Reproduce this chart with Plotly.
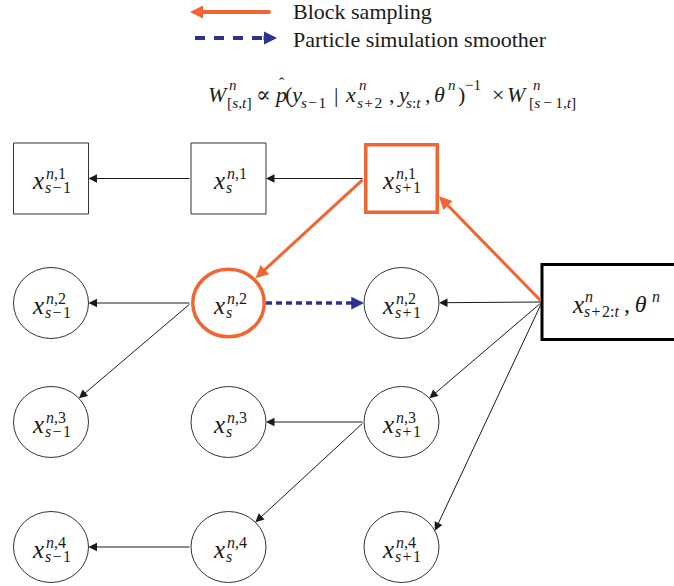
import math
import plotly.graph_objects as go

# ---------------- data ----------------
time_steps = ["s-1", "s", "s+1"]
particles = [1, 2, 3, 4]
lineage_particle = 1                      # frozen path, drawn with squares
highlight_nodes = [("s+1", 1), ("s", 2)]  # nodes touched by block sampling
ancestry_edges = [
    (("s+1", 1), ("s", 1)),
    (("s", 1), ("s-1", 1)),
    (("s", 2), ("s-1", 2)),
    (("s", 2), ("s-1", 3)),
    (("s+1", 3), ("s", 3)),
    (("s+1", 3), ("s", 4)),
    (("s", 4), ("s-1", 4)),
    ("future", ("s+1", 2)),
    ("future", ("s+1", 3)),
    ("future", ("s+1", 4)),
]
block_edges = [("future", ("s+1", 1)), (("s+1", 1), ("s", 2))]
pss_edges = [(("s", 2), ("s+1", 2))]
legend_labels = ["Block sampling", "Particle simulation smoother"]
future_sup, future_sub = "n", "s+2:t"

HS = "&#8202;"   # hair space
TS = "&#8201;"   # thin space
# formula tokens: (text, role)
formula_tokens = [
    ("<i>W</i>", "main"), ("<i>n</i>", "sup"), ("[<i>s</i>,<i>t</i>]", "sub"),
    ("∝", "main"), ("<i>p</i>", "main"), ("ˆ", "hat"), ("(<i>y</i>", "main"),
    ("<i>s</i>" + HS + "−" + HS + "1", "sub"), ("|", "main"), ("<i>x</i>", "main"),
    ("<i>n</i>", "sup"), ("<i>s</i>" + HS + "+" + HS + "2", "sub"),
    ("," + TS + "<i>y</i>", "main"),
    ("<i>s</i>:<i>t</i>", "sub"), (",", "main"), ("<i>θ</i>", "main"),
    ("<i>n</i>", "sup"), (")", "main"), ("−1", "sup"), ("×", "main"),
    ("<i>W</i>", "main"), ("<i>n</i>", "sup"),
    ("[<i>s</i>" + TS + "−" + TS + "1,<i>t</i>]", "sub"),
]

# ---------------- layout constants ----------------
W, H = 674, 586
COL_X = {"s-1": 51.0, "s": 228.5, "s+1": 401.5}
ROW_Y = {1: 178.5, 2: 303.0, 3: 422.0, 4: 547.0}
RX, RY = 37.5, 35.5
FUT = dict(x0=542, x1=712, y0=264.5, y1=339.5)
FUT_PORT = (542.0, 302.0)
HEAD_DIR = {("future", ("s+1", 1)): (41, 19.5), ("future", ("s+1", 4)): (35, -17)}
formula_x = [206, 227, 225, 254, 272, 277, 283, 299, 332, 343, 357, 355, 387,
             404, 423, 432, 446, 456, 463, 490, 505, 531, 527]
FORM_Y = {"main": 94, "sup": 85, "sub": 102, "hat": 83}
FORM_SIZE = {"main": 22, "sup": 15, "sub": 15.5, "hat": 16}
FONT = '"Liberation Serif", "DejaVu Serif", serif'
TXT = "#1a1a1a"
ORANGE = "#F26532"
BLUE = "#2E3192"
BLACK = "#1a1a1a"

fig = go.Figure()
fig.add_trace(go.Scatter(
    x=[COL_X[t] for t in time_steps for _ in particles],
    y=[ROW_Y[p] for _ in time_steps for p in particles],
    mode="markers", marker=dict(opacity=0), hoverinfo="skip", showlegend=False))

shapes, anns = [], []


def center(n):
    return COL_X[n[0]], ROW_Y[n[1]]


def is_rect(n):
    return n != "future" and n[1] == lineage_particle


def tail_pt(n):
    if n == "future":
        return FUT_PORT
    cx, cy = center(n)
    return cx - RX, cy


def head_pt(n, tp, d=None):
    cx, cy = center(n)
    dx, dy = d if d else (tp[0] - cx, tp[1] - cy)
    if is_rect(n):
        t = min(RX / abs(dx) if dx else 1e9, RY / abs(dy) if dy else 1e9)
    else:
        t = 1.0 / math.hypot(dx / RX, dy / RY)
    return cx + t * dx, cy + t * dy


def arrow(hx, hy, tx, ty, color, width, size):
    anns.append(dict(x=hx, y=hy, ax=tx, ay=ty, xref="x", yref="y", axref="x",
                     ayref="y", text="", showarrow=True, arrowhead=2,
                     arrowsize=size, arrowwidth=width, arrowcolor=color))


def text(x, y, s, size, anchor="left"):
    anns.append(dict(x=x, y=y, xref="x", yref="y", text=s, showarrow=False,
                     xanchor=anchor, yanchor="middle",
                     font=dict(family=FONT, size=size, color=TXT)))


def html(s):
    out = ""
    for c in s:
        if c.isalpha():
            out += "<i>%s</i>" % c
        elif c == "-":
            out += HS + "−" + HS
        elif c == "+":
            out += HS + "+" + HS
        else:
            out += c
    return out


CW = {"n": 8.0, ",": 4.0, "1": 8.0, "2": 8.0, "3": 8.0, "4": 8.0, "s": 6.3,
      "-": 12.5, "+": 12.5, ":": 4.5, "t": 4.5}


def est(s):
    return sum(CW.get(c, 7.5) for c in s)


# ---------------- nodes ----------------
tsub = {"s-1": "s-1", "s": "s", "s+1": "s+1"}
for t in time_steps:
    for p in particles:
        n = (t, p)
        cx, cy = center(n)
        hl = n in highlight_nodes
        lw = 3.5 if hl else 1
        col = ORANGE if hl else "#333333"
        inset = lw / 2 if hl else 0
        shapes.append(dict(type="rect" if is_rect(n) else "circle",
                           xref="x", yref="y",
                           x0=cx - RX + inset, x1=cx + RX - inset,
                           y0=cy - RY + inset, y1=cy + RY - inset,
                           line=dict(color=col, width=lw),
                           fillcolor="rgba(0,0,0,0)"))
        sup, sub = "n,%d" % p, tsub[t]
        wm = 13
        ws = max(est(sup), est(sub))
        left = cx - (wm + 1 + ws) / 2
        text(left - 1, cy + 2, "<i>x</i>", 25)
        text(left + wm, cy - 5, html(sup), 16)
        text(left + wm - 1, cy + 9, html(sub), 16)

# future block
shapes.append(dict(type="rect", xref="x", yref="y", **FUT,
                   line=dict(color="black", width=3)))
fy = FUT_PORT[1]
text(570, fy + 2, "<i>x</i>", 25)
text(583, fy - 6, html(future_sup), 16)
text(582, fy + 9, html(future_sub), 16)
text(622, fy + 2, "," + TS + "<i>θ</i>", 24)
text(650, fy - 6, html(future_sup), 16)

# ---------------- edges ----------------
for src, dst in ancestry_edges:
    tp = tail_pt(src)
    hx, hy = head_pt(dst, tp, HEAD_DIR.get((src, dst)))
    arrow(hx, hy, tp[0], tp[1], BLACK, 1, 1.7)

for src, dst in block_edges:
    tp = tail_pt(src)
    hx, hy = head_pt(dst, tp, HEAD_DIR.get((src, dst)))
    arrow(hx, hy, tp[0], tp[1], ORANGE, 3, 0.85)

for src, dst in pss_edges:
    sx, sy = center(src)
    dx_, dy_ = center(dst)
    x0 = sx + RX
    x1 = dx_ - RX
    shapes.append(dict(type="line", xref="x", yref="y", x0=x0, x1=x1 - 9,
                       y0=sy, y1=dy_, line=dict(color=BLUE, width=3.5,
                                                dash="6px,4px")))
    arrow(x1, dy_, x1 - 10, dy_, BLUE, 3, 0.85)

# ---------------- legend ----------------
arrow(190, 12, 272, 12, ORANGE, 4, 0.65)
shapes.append(dict(type="line", xref="x", yref="y", x0=195, x1=262, y0=38,
                   y1=38, line=dict(color=BLUE, width=4, dash="10px,9px")))
arrow(277, 38, 262, 38, BLUE, 4, 0.65)
text(291, 11, legend_labels[0], 22)
text(291, 39, legend_labels[1], 22)

# ---------------- formula ----------------
for (s, role), x in zip(formula_tokens, formula_x):
    text(x, FORM_Y[role], s, FORM_SIZE[role])

fig.update_layout(
    width=W, height=H, margin=dict(l=0, r=0, t=0, b=0),
    paper_bgcolor="white", plot_bgcolor="white",
    xaxis=dict(range=[0, W], visible=False, fixedrange=True),
    yaxis=dict(range=[H, 0], visible=False, fixedrange=True),
    shapes=shapes, annotations=anns, showlegend=False,
)
fig.write_html("out.html", config={"displayModeBar": False})

# remove the default page margin so the figure fills the window exactly
with open("out.html", encoding="utf-8") as f:
    page = f.read()
page = page.replace("<head>", "<head><style>html,body{margin:0;padding:0;"
                    "overflow:hidden;}</style>", 1)
with open("out.html", "w", encoding="utf-8") as f:
    f.write(page)
